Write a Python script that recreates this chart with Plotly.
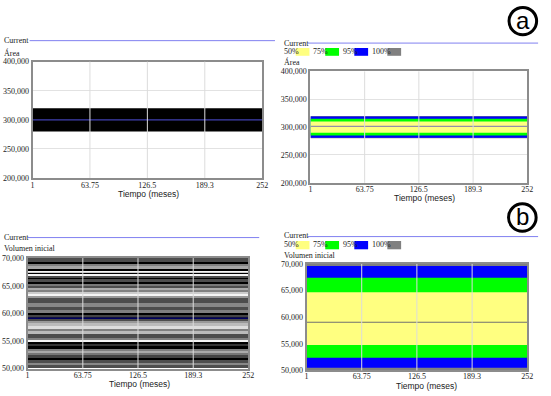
import plotly.graph_objects as go

W, H = 551, 396

# ---------------- data ----------------
time_start, time_end = 1, 252
x_tickvals = [1, 63.75, 126.5, 189.3, 252]
x_ticktext = ["1", "63.75", "126.5", "189.3", "252"]
area_ticks = [200000, 250000, 300000, 350000, 400000]
vol_ticks = [50000, 55000, 60000, 65000, 70000]

# panel a, left: current run and envelope of sensitivity runs
area_current = 300000
area_runs_min = 280000
area_runs_max = 320000

# confidence bands (50%, 75%, 95%, 100%)
conf_levels = ["50%", "75%", "95%", "100%"]
conf_colors = ["#ffff80", "#00ff00", "#0000ff", "#808080"]
area_conf_low = [290000, 285000, 281000, 280000]
area_conf_high = [310000, 315000, 319000, 320000]
area_median = 301500

# panel b
vol_current = 59100
vol_conf_low = [54800, 52400, 50500, 50000]
vol_conf_high = [64700, 67400, 69600, 70000]
vol_median = 59050

# sensitivity runs of "Volumen inicial" (stripe edges and their gray shades)
vol_stripe_edges = [70000, 69230, 68940, 68470, 67940, 67700, 67460, 67230, 66990, 66760,
                    66400, 66170, 65690, 65340, 64930, 64510, 64160, 63810, 63450, 63100,
                    62740, 61800, 61210, 60620, 60030, 59680, 59320, 58970, 58610, 58140,
                    57670, 57200, 56730, 56250, 55430, 55070, 54720, 54370, 54010, 53540,
                    53190, 52830, 52360, 51890, 51530, 51060, 50590, 50000]
vol_stripe_grays = ["#4d4d4d", "#000000", "#808080", "#a6a6a6", "#000000", "#f4f4f4", "#c8c8c8",
                    "#000000", "#f4f4f4", "#4d4d4d", "#000000", "#4d4d4d", "#000000", "#777777",
                    "#4d4d4d", "#aaaaaa", "#808080", "#cccccc", "#f4f4f4", "#999999", "#4d4d4d",
                    "#888888", "#4d4d4d", "#808080", "#000000", "#444444", "#222222", "#4d4d4d",
                    "#999999", "#bbbbbb", "#dddddd", "#808080", "#bbbbbb", "#4d4d4d", "#808080",
                    "#f4f4f4", "#000000", "#333333", "#000000", "#808080", "#aaaaaa", "#777777",
                    "#444444", "#000000", "#4d4d4d", "#888888", "#4d4d4d"]

# ---------------- layout helpers ----------------
def px_x(p):
    return p / W

def px_y(p):
    return 1 - p / H

panels = {
    1: dict(x=(31, 264), y=(59, 178), standoff=-2),
    2: dict(x=(313, 533), y=(69, 183), standoff=-2),
    3: dict(x=(26, 250), y=(260, 373), standoff=-2),
    4: dict(x=(309, 533), y=(266, 375), standoff=-3),
}

SERIF = "Liberation Serif, Times New Roman, serif"
SANS = "Liberation Sans, Arial, sans-serif"

tx = [time_start, time_end]
fig = go.Figure()

def band(lo, hi, color, ax):
    fig.add_trace(go.Scatter(x=tx, y=[hi, hi], mode="lines", line=dict(width=0, color=color),
                             xaxis="x" + ax, yaxis="y" + ax, showlegend=False, hoverinfo="skip"))
    fig.add_trace(go.Scatter(x=tx, y=[lo, lo], mode="lines", line=dict(width=0, color=color),
                             fill="tonexty", fillcolor=color,
                             xaxis="x" + ax, yaxis="y" + ax, showlegend=False, hoverinfo="skip"))

# panel 1: black envelope of runs + current line
band(area_runs_min, area_runs_max, "#000000", "")
fig.add_trace(go.Scatter(x=tx, y=[area_current, area_current], mode="lines",
                         line=dict(color="#4040b0", width=1.2), showlegend=False))

# panel 2: confidence bands
for i in reversed(range(len(conf_levels))):
    band(area_conf_low[i], area_conf_high[i], conf_colors[i], "2")
fig.add_trace(go.Scatter(x=tx, y=[area_median, area_median], mode="lines",
                         line=dict(color="#9090a8", width=1.2), xaxis="x2", yaxis="y2",
                         showlegend=False))

# panel 3: stripes of runs
lows = vol_stripe_edges[1:]
highs = vol_stripe_edges[:-1]
n = len(lows)
fig.add_trace(go.Bar(x=[(time_start + time_end) / 2] * n,
                     y=[h - l for h, l in zip(highs, lows)], base=lows,
                     width=[time_end - time_start] * n,
                     marker=dict(color=vol_stripe_grays, line=dict(width=0)),
                     xaxis="x3", yaxis="y3", showlegend=False, hoverinfo="skip"))
fig.add_trace(go.Scatter(x=tx, y=[vol_current, vol_current], mode="lines",
                         line=dict(color="#000060", width=1.5), xaxis="x3", yaxis="y3",
                         showlegend=False))

# panel 4: confidence bands
for i in reversed(range(len(conf_levels))):
    band(vol_conf_low[i], vol_conf_high[i], conf_colors[i], "4")
fig.add_trace(go.Scatter(x=tx, y=[vol_median, vol_median], mode="lines",
                         line=dict(color="#707070", width=1.2), xaxis="x4", yaxis="y4",
                         showlegend=False))

layout = dict(width=W, height=H, margin=dict(l=0, r=0, t=0, b=0),
              paper_bgcolor="white", plot_bgcolor="white", barmode="overlay",
              bargap=0, showlegend=False)

for k, p in panels.items():
    sx = "" if k == 1 else str(k)
    yt = area_ticks if k in (1, 2) else vol_ticks
    layout["xaxis" + sx] = dict(domain=[px_x(p["x"][0]), px_x(p["x"][1])],
                                range=[time_start, time_end], tickvals=x_tickvals,
                                ticktext=x_ticktext, showgrid=False, zeroline=False,
                                showline=True, mirror=True, linecolor="#8c8c8c", linewidth=2,
                                ticks="", tickfont=dict(family=SERIF, size=8, color="#222"),
                                ticklabelstandoff=p["standoff"],
                                anchor="y" + sx, layer="above traces")
    layout["yaxis" + sx] = dict(domain=[px_y(p["y"][1]), px_y(p["y"][0])],
                                range=[yt[0], yt[-1]], tickvals=yt, tickformat=",d",
                                showgrid=True, gridcolor="#e2e2e2", gridwidth=1, zeroline=False,
                                showline=True, mirror=True, linecolor="#8c8c8c", linewidth=2,
                                ticks="", tickfont=dict(family=SERIF, size=8, color="#222"),
                                anchor="x" + sx, layer="above traces")

shapes = []
annotations = []

# vertical grid lines drawn above data
for k in panels:
    sx = "" if k == 1 else str(k)
    for v in x_tickvals[1:-1]:
        shapes.append(dict(type="line", xref="x" + sx, yref="y" + sx + " domain",
                           x0=v, x1=v, y0=0, y1=1, layer="above",
                           line=dict(color="#dcdcdc", width=1)))

def text(s, x, y, size=8, family=SERIF, xanchor="left", color="#222"):
    annotations.append(dict(text=s, x=px_x(x), y=px_y(y), xref="paper", yref="paper",
                            xanchor=xanchor, yanchor="middle", showarrow=False,
                            font=dict(family=family, size=size, color=color)))

def hline(x0, x1, y, color="#8080f0", width=1):
    shapes.append(dict(type="line", xref="paper", yref="paper", x0=px_x(x0), x1=px_x(x1),
                       y0=px_y(y), y1=px_y(y), line=dict(color=color, width=width)))

def rect(x0, x1, y0, y1, color):
    shapes.append(dict(type="rect", xref="paper", yref="paper", x0=px_x(x0), x1=px_x(x1),
                       y0=px_y(y1), y1=px_y(y0), fillcolor=color, line=dict(width=0)))

# headers
text("Current", 0, 37.5)
hline(28, 277, 37.5)
text("Área", 0, 50)

text("Current", 284, 40)
hline(310, 544, 40)
text("Área", 284, 59)

text("Current", 0, 239)
hline(26, 261, 239)
text("Volumen inicial", 0, 250)

text("Current", 284, 237)
hline(310, 544, 238)
text("Volumen inicial", 284, 257)

# confidence legends
leg_text_x = [284, 314, 344, 373]
leg_sw_x = [298, 328, 357.5, 391]
for ly, (sy0, sy1) in ((49, (45, 53)), (246.5, (242.5, 251))):
    for i, lab in enumerate(conf_levels):
        text(lab, leg_text_x[i], ly)
        rect(leg_sw_x[i], leg_sw_x[i] + 14, sy0, sy1, conf_colors[i])

# x-axis titles
text("Tiempo (meses)", 149, 194.5, size=8.5, family=SANS, xanchor="center")
text("Tiempo (meses)", 429, 198.5, size=8.5, family=SANS, xanchor="center")
text("Tiempo (meses)", 140, 389, size=8.5, family=SANS, xanchor="center")
text("Tiempo (meses)", 430.5, 390.5, size=8.5, family=SANS, xanchor="center")

# circled labels
for lab, cx, cy in (("a", 528.5, 17.5), ("b", 528, 218.5)):
    r = 14
    shapes.append(dict(type="circle", xref="paper", yref="paper",
                       x0=px_x(cx - r), x1=px_x(cx + r), y0=px_y(cy + r), y1=px_y(cy - r),
                       line=dict(color="#000", width=3), fillcolor="white"))
    text(lab, cx, cy - 1, size=24, family=SANS, xanchor="center", color="#000")

layout["shapes"] = shapes
layout["annotations"] = annotations
fig.update_layout(**layout)

fig.write_html("out.html", config={"displayModeBar": False},
               post_script="document.body.style.margin='0';document.body.style.padding='0';")
